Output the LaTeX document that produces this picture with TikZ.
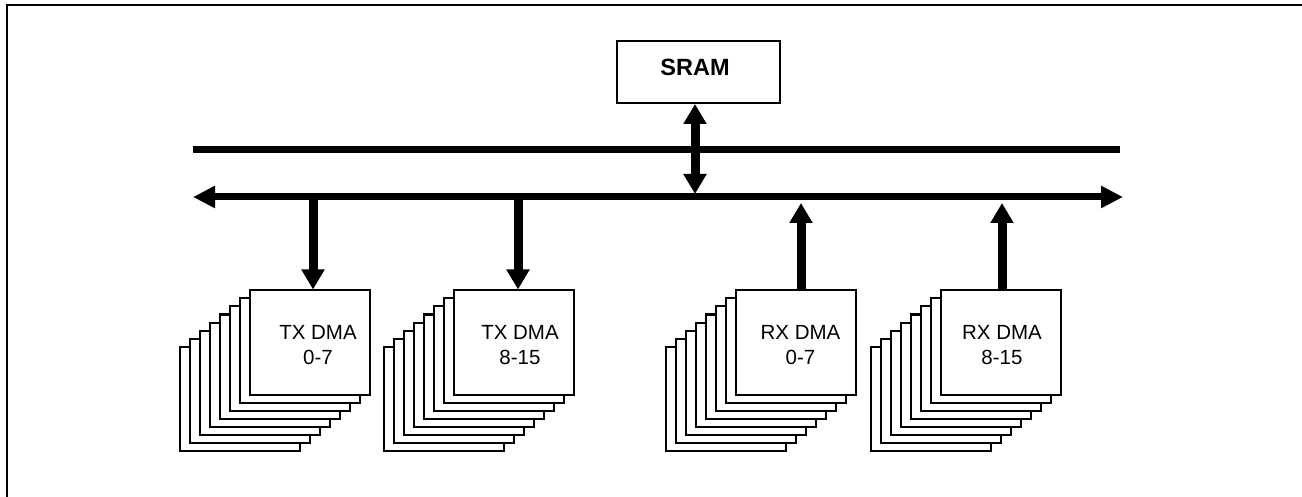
\documentclass[tikz,border=0pt]{standalone}
\usepackage{fontspec}
\setmainfont{Liberation Sans}
\usetikzlibrary{arrows.meta}

% a stack of eight DMA channel cards: #1 name, #2/#3 centre of the front card,
% #4 text offset in x, #5 label text
\newcommand{\dmastack}[5]{%
  \foreach \i in {7,...,1}{
    \node[card] (#1-\i) at ({#2-10*\i},{#3+8*\i}) {};
  }
  \node[card] (#1) at (#2,#3) {};
  \node[cardtext] (#1-text) at ({#2+#4},{#3+3}) {#5};
}

\begin{document}
\begin{tikzpicture}[x=1pt,y=-1pt,
  frameline/.style={line width=2.5pt},
  bus/.style={line width=7pt},
  busarrow/.style={line width=7pt,{Triangle[length=22pt,width=21pt]}-{Triangle[length=22pt,width=21pt]}},
  link/.style={line width=9pt,-{Triangle[length=20pt,width=22pt]}},
  dlink/.style={line width=9pt,{Triangle[length=20pt,width=22pt]}-{Triangle[length=20pt,width=22pt]}},
  card/.style={draw,line width=2pt,fill=white,minimum width=120pt,minimum height=104pt,inner sep=0pt},
  cardtext/.style={align=center,font=\fontsize{20.5}{25}\selectfont,inner sep=0pt},
  membox/.style={draw,line width=2pt,fill=white,minimum width=163pt,minimum height=62pt,inner sep=0pt},
  memtext/.style={font=\bfseries\fontsize{23.5}{28}\selectfont,inner sep=0pt},
]
\useasboundingbox (0,0) rectangle (1302,497);

% outer frame (top and left edges)
\draw[frameline] (7,497) -- (7,5) -- (1302,5);

% memory
\node[membox] (sram) at (698.5,72) {};
\node[memtext] (sram-text) at (695,67) {SRAM};

% the two buses
\coordinate (busA-w) at (193,150);
\coordinate (busA-e) at (1120,150);
\coordinate (busB-w) at (193,197);
\coordinate (busB-e) at (1123,197);
\draw[bus] (busA-w) -- (busA-e);
\draw[busarrow] (busB-w) -- (busB-e);

% memory port
\coordinate (memtap) at (695,194);
\draw[dlink] (sram.south -| memtap) -- (memtap);

% DMA channel stacks
\dmastack{tx0}{309.5}{342.5}{8.5}{TX DMA\\0-7}
\dmastack{tx8}{514}{342.5}{6}{TX DMA\\8-15}
\dmastack{rx0}{796}{342.5}{4.5}{RX DMA\\0-7}
\dmastack{rx8}{1000.5}{342.5}{1.5}{RX DMA\\8-15}

% bus taps
\coordinate (tx0tap) at (313,197);
\coordinate (tx8tap) at (518,197);
\coordinate (rx0tap) at (801,203);
\coordinate (rx8tap) at (1002,203);
\draw[link] (tx0tap) -- (tx0tap |- tx0.north);
\draw[link] (tx8tap) -- (tx8tap |- tx8.north);
\draw[link] (rx0tap |- rx0.north) -- (rx0tap);
\draw[link] (rx8tap |- rx8.north) -- (rx8tap);
\end{tikzpicture}
\end{document}
